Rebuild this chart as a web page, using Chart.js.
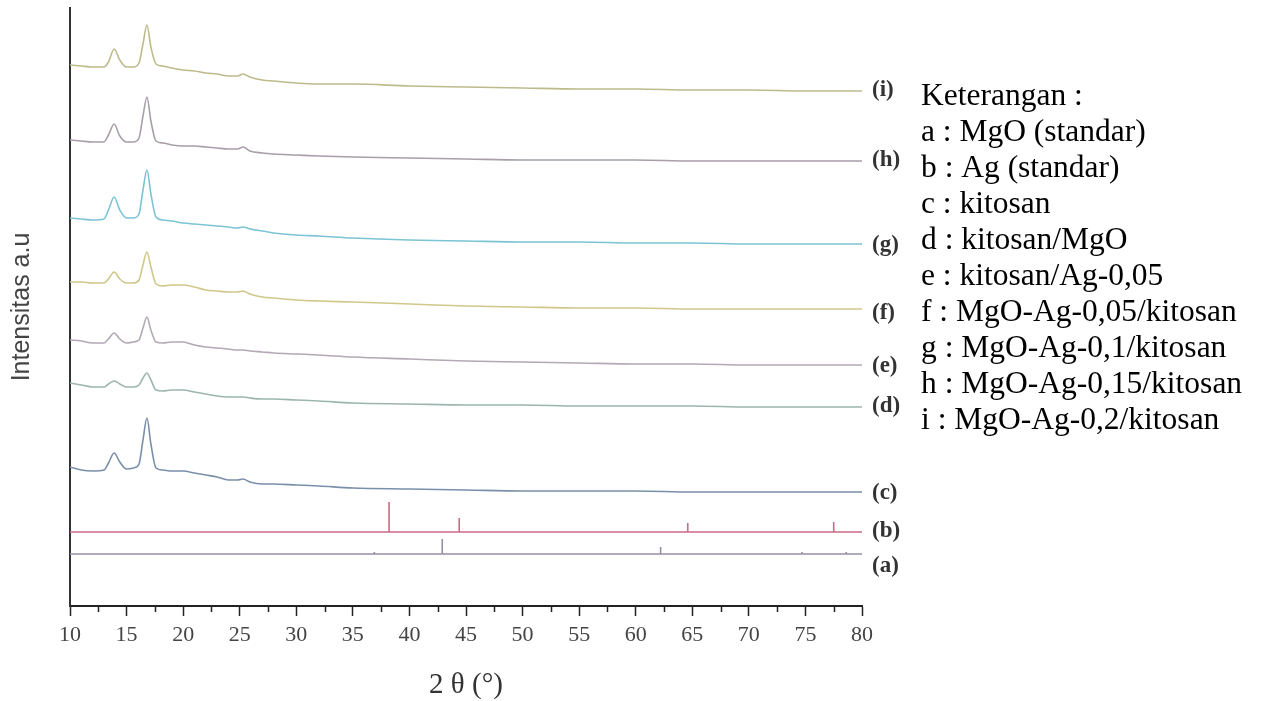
<!DOCTYPE html>
<html>
<head>
<meta charset="utf-8">
<script src="https://cdn.jsdelivr.net/npm/chart.js@4.4.1/dist/chart.umd.min.js"></script>
<style>
  html, body { margin: 0; padding: 0; background: #fff; }
  #wrap { width: 1265px; height: 701px; position: relative; }
</style>
</head>
<body>
<div id="wrap"><canvas id="xrd"></canvas></div>
<script>
// 2θ grid shared by the measured patterns (c) - (i)
const twoTheta = [10, 11, 12, 13, 13.4, 13.9, 14.4, 15, 15.6, 16.1, 16.45, 16.8, 17.15, 17.6, 18.2, 19, 20, 21, 22, 23, 24, 24.8, 25.3, 25.9, 27, 28, 30, 32, 35, 40, 45, 50, 55, 60, 65, 70, 75, 80];

// intensity above each pattern's own baseline (a.u.)
const kitosan       = [25, 22, 21, 22, 29, 39, 30, 23, 24, 28, 52, 74, 48, 24, 22, 21, 21, 19, 17, 15, 12, 12, 13, 10, 8, 8, 7, 6, 4, 3, 2, 1, 1, 1, 0, 0, 0, 0];
const kitosanMgO    = [24, 22, 20, 20, 23, 26, 23, 20, 20, 22, 29, 34, 27, 17, 16, 17, 17, 15, 13, 11, 10, 10, 10, 9, 8, 8, 7, 6, 4, 3, 2, 2, 1, 1, 1, 0, 0, 0];
const kitosanAg005  = [25, 24, 22, 22, 26, 32, 26, 22, 23, 25, 37, 48, 35, 23, 22, 23, 23, 20, 18, 17, 16, 15, 15, 14, 13, 12, 11, 10, 8, 6, 4, 3, 2, 1, 1, 0, 0, 0];
const mgoAg005      = [27, 27, 26, 26, 30, 37, 30, 26, 26, 29, 44, 57, 42, 25, 23, 24, 24, 22, 19, 18, 17, 17, 18, 15, 12, 11, 9, 8, 7, 5, 3, 2, 1, 1, 0, 0, 0, 0];
const mgoAg01       = [26, 25, 24, 25, 34, 47, 34, 26, 26, 30, 54, 74, 50, 27, 24, 23, 21, 20, 19, 18, 17, 16, 17, 15, 13, 11, 9, 8, 6, 4, 3, 2, 2, 1, 1, 0, 0, 0];
const mgoAg015      = [21, 20, 19, 19, 26, 37, 25, 19, 19, 23, 45, 64, 40, 20, 18, 16, 15, 15, 14, 13, 12, 12, 14, 10, 8, 7, 6, 5, 4, 3, 2, 1, 1, 1, 0, 0, 0, 0];
const mgoAg02       = [26, 25, 24, 24, 29, 42, 31, 24, 24, 28, 47, 66, 44, 27, 25, 23, 21, 20, 18, 17, 15, 15, 17, 14, 11, 10, 8, 7, 7, 5, 4, 3, 2, 2, 1, 1, 0, 0];

// standard reference lines
const agAngles   = [38.2, 44.4, 64.6, 77.5];
const agHeights  = [30, 14, 9, 10];
const mgoAngles  = [36.9, 42.9, 62.2, 74.7, 78.6];
const mgoHeights = [2, 15, 7, 2, 2];

// vertical offsets used to stack the patterns
const offsets = { a: 52, b: 74, c: 114, d: 199, e: 241, f: 297, g: 362, h: 445, i: 515 };

const legendLines = [
  'Keterangan :',
  'a : MgO (standar)',
  'b : Ag (standar)',
  'c : kitosan',
  'd : kitosan/MgO',
  'e : kitosan/Ag-0,05',
  'f : MgO-Ag-0,05/kitosan',
  'g : MgO-Ag-0,1/kitosan',
  'h : MgO-Ag-0,15/kitosan',
  'i : MgO-Ag-0,2/kitosan'
];
const xTicks = [10, 15, 20, 25, 30, 35, 40, 45, 50, 55, 60, 65, 70, 75, 80];
const minorTicks = [12.5, 17.5, 22.5, 27.5, 32.5, 37.5, 42.5, 47.5, 52.5, 57.5, 62.5, 67.5, 72.5, 77.5];

function pattern(values, off) {
    return twoTheta.map((x, k) => ({ x: x, y: off + values[k] }));
}

function sticks(angles, heights, off) {
    const pts = [{ x: 10, y: off }];
    angles.forEach((a, k) => {
        pts.push({ x: a, y: off }, { x: a, y: off + heights[k] }, { x: a, y: off });
    });
    pts.push({ x: 80, y: off });
    return pts;
}

const serif = 'Liberation Serif, Times New Roman, serif';

const tags = ['(i)', '(h)', '(g)', '(f)', '(e)', '(d)', '(c)', '(b)', '(a)'];
const tagY = [90, 160, 245, 313, 366, 406, 493, 531, 566];

const sideText = {
    id: 'sideText',
    afterDraw(chart) {
        const { ctx, scales: { x } } = chart;
        const minorTop = x.top;
        ctx.save();
        // minor ticks
        ctx.strokeStyle = '#222';
        ctx.lineWidth = 1.5;
        minorTicks.forEach(v => {
            const px = Math.round(x.getPixelForValue(v)) + 0.5;
            ctx.beginPath();
            ctx.moveTo(px, minorTop);
            ctx.lineTo(px, minorTop + 6);
            ctx.stroke();
        });
        // pattern tags
        ctx.fillStyle = '#333';
        ctx.font = 'bold 23px ' + serif;
        ctx.textBaseline = 'middle';
        ctx.textAlign = 'left';
        tags.forEach((t, k) => {
            ctx.save();
            if (k >= 2) {
                ctx.beginPath();
                ctx.rect(0, 0, 900, chart.height);
                ctx.clip();
            }
            ctx.fillText(t, x.right + 10, tagY[k]);
            ctx.restore();
        });
        // legend block
        ctx.fillStyle = '#000';
        ctx.font = '31.5px ' + serif;
        legendLines.forEach((line, k) => {
            ctx.fillText(line, 921, 97 + k * 36);
        });
        ctx.restore();
    }
};

function ds(data, color, width, tension) {
    return {
        data: data,
        borderColor: color,
        borderWidth: width,
        pointRadius: 0,
        fill: false,
        tension: tension,
        cubicInterpolationMode: tension ? 'monotone' : 'default'
    };
}

new Chart(document.getElementById('xrd'), {
    type: 'line',
    data: {
        datasets: [
            ds(sticks(mgoAngles, mgoHeights, offsets.a), '#968ea6', 1.6, 0),
            ds(sticks(agAngles, agHeights, offsets.b), '#cc6a86', 1.6, 0),
            ds(pattern(kitosan, offsets.c), '#7a90aa', 1.6, 0.4),
            ds(pattern(kitosanMgO, offsets.d), '#9db5b0', 1.6, 0.4),
            ds(pattern(kitosanAg005, offsets.e), '#b3a9b4', 1.6, 0.4),
            ds(pattern(mgoAg005, offsets.f), '#d1c78a', 1.6, 0.4),
            ds(pattern(mgoAg01, offsets.g), '#7cc4d4', 1.6, 0.4),
            ds(pattern(mgoAg015, offsets.h), '#a89fa9', 1.6, 0.4),
            ds(pattern(mgoAg02, offsets.i), '#bdbb8c', 1.6, 0.4)
        ]
    },
    options: {
        responsive: true,
        maintainAspectRatio: false,
        animation: false,
        layout: { padding: { top: 8, right: 403, left: 0, bottom: 0 } },
        plugins: {
            legend: { display: false },
            tooltip: { enabled: false }
        },
        scales: {
            x: {
                type: 'linear',
                min: 10,
                max: 80,
                afterFit(s) { s.height = 95; },
                afterBuildTicks(s) { s.ticks = xTicks.map(v => ({ value: v })); },
                grid: {
                    display: true,
                    drawOnChartArea: false,
                    drawTicks: true,
                    tickLength: 10,
                    tickWidth: 1.5,
                    tickColor: '#222'
                },
                border: { display: true, color: '#222', width: 2 },
                ticks: {
                    font: { family: serif, size: 22 },
                    color: '#444',
                    padding: 6,
                    maxRotation: 0,
                    autoSkip: false
                },
                title: {
                    display: true,
                    text: '2 θ (°)',
                    font: { family: serif, size: 29 },
                    color: '#333',
                    padding: { bottom: -2 }
                }
            },
            y: {
                type: 'linear',
                min: 0,
                max: 598,
                afterFit(s) { s.width = 70; },
                grid: { display: false },
                border: { display: true, color: '#333', width: 2 },
                ticks: { display: false },
                title: {
                    display: true,
                    text: 'Intensitas a.u',
                    font: { family: 'Liberation Sans, Arial, sans-serif', size: 25 },
                    color: '#444',
                    padding: { top: 7 }
                }
            }
        }
    },
    plugins: [sideText]
});
</script>
</body>
</html>
